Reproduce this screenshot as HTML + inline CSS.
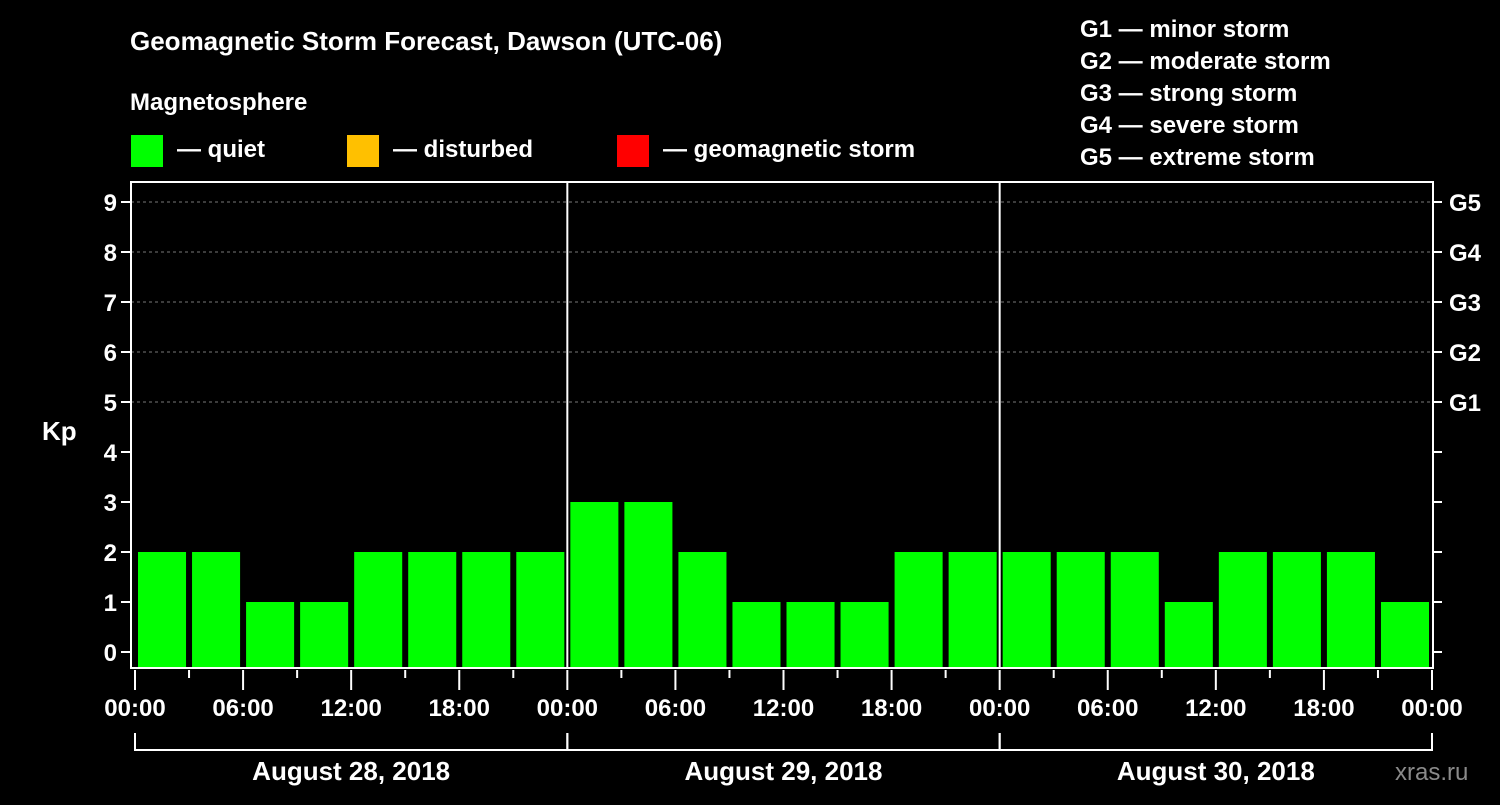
<!DOCTYPE html>
<html><head><meta charset="utf-8"><style>
body{margin:0;background:#000;}
svg text{font-family:"Liberation Sans",sans-serif;font-weight:bold;fill:#fff;}
</style></head><body>
<svg width="1500" height="800" xmlns="http://www.w3.org/2000/svg">
<rect width="1500" height="800" fill="#000"/>
<text x="130" y="50" font-size="26">Geomagnetic Storm Forecast, Dawson (UTC-06)</text>
<text x="130" y="110" font-size="24">Magnetosphere</text>
<g>
<rect x="131" y="135" width="32" height="32" fill="#00ff00"/>
<text x="177" y="157" font-size="24">— quiet</text>
<rect x="347" y="135" width="32" height="32" fill="#ffc000"/>
<text x="393" y="157" font-size="24">— disturbed</text>
<rect x="617" y="135" width="32" height="32" fill="#ff0000"/>
<text x="663" y="157" font-size="24">— geomagnetic storm</text>
</g>
<g font-size="24">
<text x="1080" y="37">G1 — minor storm</text>
<text x="1080" y="69">G2 — moderate storm</text>
<text x="1080" y="101">G3 — strong storm</text>
<text x="1080" y="133">G4 — severe storm</text>
<text x="1080" y="165">G5 — extreme storm</text>
</g>
<text x="42" y="440" font-size="26">Kp</text>
<text x="1395" y="780" font-size="24" fill="#888" style="fill:#8a8a8a;font-weight:normal">xras.ru</text>
<g id="plot"></g>
</svg>
<script>
const days = ["August 28, 2018","August 29, 2018","August 30, 2018"];
const kpValues = [2,2,1,1,2,2,2,2, 3,3,2,1,1,1,2,2, 2,2,2,1,2,2,2,1];
const yTicks = [0,1,2,3,4,5,6,7,8,9];
const gLabels = ["G1","G2","G3","G4","G5"];
const hourLabels = ["00:00","06:00","12:00","18:00"];

const NS="http://www.w3.org/2000/svg";
const g=document.getElementById('plot');
const L=131,R=1433,T=182,B=668,X0=135,X1=1432;
const slots=kpValues.length;
const slotW=(X1-X0)/slots;
const xs=i=>X0+i*slotW;
const ys=v=>652-v*50;
function mk(tag,a){const e=document.createElementNS(NS,tag);for(const k in a)e.setAttribute(k,a[k]);g.appendChild(e);return e;}
// grid
yTicks.forEach(v=>{
  if(v>=5){const l=mk('line',{x1:L,x2:R,y1:ys(v),y2:ys(v),stroke:'#777','stroke-dasharray':'3,3','stroke-width':1});
  
  }
  const t=mk('line',{x1:L-10,x2:L,y1:ys(v),y2:ys(v),stroke:'#fff','stroke-width':2});
  
  
  const t2=mk('line',{x1:R,x2:R+9,y1:ys(v),y2:ys(v),stroke:'#fff','stroke-width':2});
  
  
  const tx=mk('text',{x:L-14,y:ys(v)+9,'font-size':24,'text-anchor':'end'});
  tx.textContent=v;
  
  
});
gLabels.forEach((s,i)=>{
  const tx=mk('text',{x:R+16,y:ys(5+i)+9,'font-size':24});
  tx.textContent=s;
  
  
});
// bars
kpValues.forEach((v,i)=>{
  const c=v>=5?'#ff0000':(v>=4?'#ffc000':'#00ff00');
  const r=mk('rect',{x:xs(i)+3,y:ys(v),width:slotW-6,height:B-1-ys(v),fill:c});
  
  
});
// frame
const fr=mk('rect',{x:L,y:T,width:R-L,height:B-T,fill:'none',stroke:'#fff','stroke-width':2});


// x ticks
for(let i=0;i<=slots;i++){
  const major=i%2===0;
  const t=mk('line',{x1:xs(i),x2:xs(i),y1:B+2,y2:B+(major?22:10),stroke:'#fff','stroke-width':2});
  
  
  if(major){
    const tx=mk('text',{x:xs(i),y:716,'font-size':24,'text-anchor':'middle'});
    tx.textContent=hourLabels[(i/2)%4];
    
    
  }
}
// day separators & brackets
days.forEach((d,k)=>{
  const a=xs(k*8),b=xs((k+1)*8);
  if(k>0){const s=mk('line',{x1:a,x2:a,y1:T,y2:B,stroke:'#fff','stroke-width':2});
  
  }
  const p=mk('path',{d:`M${a} 733 V750 H${b} V733`,fill:'none',stroke:'#fff','stroke-width':2});
  
  
  const tx=mk('text',{x:(a+b)/2,y:780,'font-size':26,'text-anchor':'middle'});
  tx.textContent=d;
  
  
});
</script>
</body></html>
